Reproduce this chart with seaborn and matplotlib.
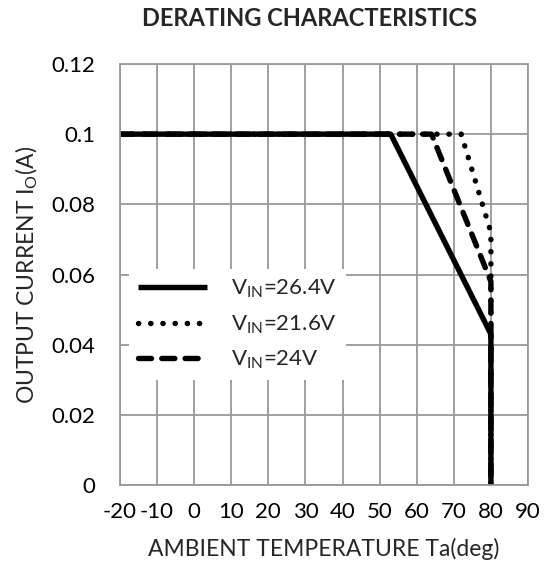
import numpy as np
import pandas as pd
import matplotlib
matplotlib.use("Agg")
import matplotlib.pyplot as plt
import seaborn as sns

# derating curves
temp_264 = [-20, 53, 80, 80]
curr_264 = [0.1, 0.1, 0.043, 0.0]
temp_216 = [-20, 72, 80, 80]
curr_216 = [0.1, 0.1, 0.072, 0.0]
temp_24 = [-20, 64, 80, 80]
curr_24 = [0.1, 0.1, 0.058, 0.0]

labels = ["V$_{IN}$=26.4V", "V$_{IN}$=21.6V", "V$_{IN}$=24V"]
x_ticks = [-20, -10, 0, 10, 20, 30, 40, 50, 60, 70, 80, 90]
y_ticks = [0, 0.02, 0.04, 0.06, 0.08, 0.1, 0.12]
y_tick_labels = ["0", "0.02", "0.04", "0.06", "0.08", "0.1", "0.12"]

sns.set_theme(style="white")
plt.rcParams["font.family"] = ["Lato", "DejaVu Sans"]
plt.rcParams["mathtext.default"] = "regular"

fig, ax = plt.subplots(figsize=(5.5, 5.79), dpi=100)
fig.subplots_adjust(left=0.218, right=0.96, top=0.8895, bottom=0.1623)

lw = 3.9
sns.lineplot(x=temp_264, y=curr_264, sort=False, estimator=None, ax=ax,
             color="black", linewidth=lw, solid_capstyle="butt", label=labels[0])
sns.lineplot(x=temp_216, y=curr_216, sort=False, estimator=None, ax=ax,
             color="black", linewidth=lw, linestyle=(0, (0.05, 2.2)),
             dash_capstyle="round", label=labels[1])
sns.lineplot(x=temp_24, y=curr_24, sort=False, estimator=None, ax=ax,
             color="black", linewidth=lw, linestyle=(0, (2.4, 1.9)),
             dash_capstyle="round", label=labels[2])

ax.set_xlim(-20, 90)
ax.set_ylim(0, 0.12)
ax.set_xticks(x_ticks)
ax.set_xticklabels([str(t) for t in x_ticks])
ax.set_yticks(y_ticks)
ax.set_yticklabels(y_tick_labels)
ax.tick_params(axis="both", length=0, labelsize=16, colors="black")
ax.tick_params(axis="y", pad=18)
ax.tick_params(axis="x", pad=12)

ax.grid(True, color="#999999", linewidth=1.3)
ax.set_axisbelow(True)
for s in ax.spines.values():
    s.set_color("#999999")
    s.set_linewidth(1.3)

ax.set_title("DERATING CHARACTERISTICS", fontsize=17, fontweight="bold", pad=27, x=0.465)
ax.set_xlabel("AMBIENT TEMPERATURE Ta(deg)", fontsize=16.5, labelpad=12)
ax.set_ylabel("OUTPUT CURRENT I$_{O}$(A)", fontsize=16.5, labelpad=8)

leg = ax.legend(loc="upper left", bbox_to_anchor=(-0.005, 0.54), fontsize=16,
                frameon=True, facecolor="white", edgecolor="none", framealpha=1,
                handlelength=3.1, handletextpad=1.1, labelspacing=0.6,
                borderpad=0.4, fancybox=False)

fig.savefig("out.png", dpi=100)
